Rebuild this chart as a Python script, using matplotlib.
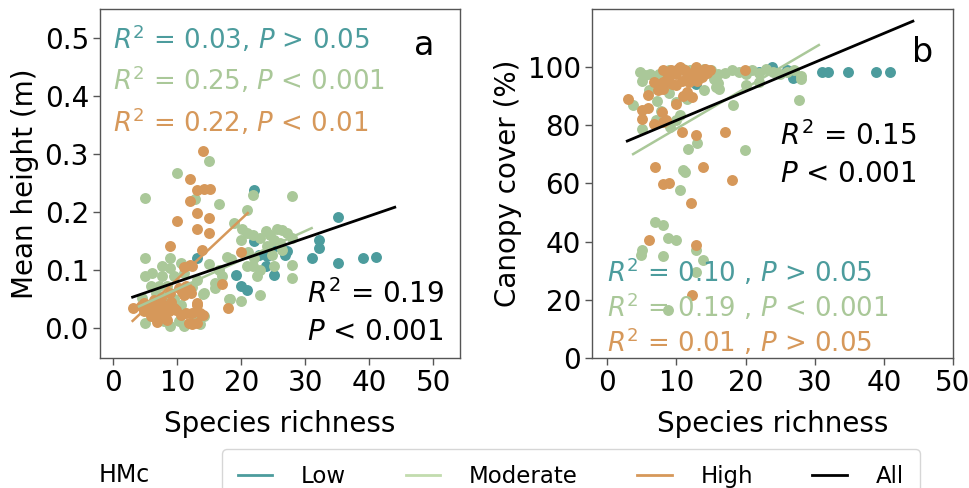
import matplotlib
matplotlib.use("Agg")
import matplotlib.pyplot as plt
from matplotlib.lines import Line2D

plt.rcParams['font.family'] = ['DejaVu Sans']
plt.rcParams['mathtext.fontset'] = 'dejavusans'

# ---------------- colours ----------------
C_LOW = '#4c9c9d'
C_MOD = '#aac899'
C_HIGH = '#d6985a'
C_ALL = '#000000'

# ---------------- panel a: mean height ----------------
a_low_x = [13, 19.1, 19.9, 20.9, 22, 22, 22.7, 24, 23.8, 25.1, 25.6, 26.9, 27.1, 31, 32.1, 32.1, 35.1, 35.1, 39.1, 41.1]
a_low_y = [0.120, 0.092, 0.072, 0.066, 0.237, 0.149, 0.126, 0.124, 0.106, 0.092, 0.141, 0.126, 0.132, 0.121, 0.152, 0.138, 0.191, 0.112, 0.120, 0.122]

a_mod_x = [4.9, 10, 14.9, 12.8, 16.5, 20.9, 21.9, 28, 18.8,
           20.1, 19.9, 20.9, 21.9, 23, 23.8, 24.5, 25.6, 26.4, 27.1, 27.9, 25.1, 26.1, 24, 26.4,
           17.8, 18.4, 20.9, 21.9, 22.5, 23, 25.1, 28, 28, 24.8, 18, 19.9, 15.9, 15.9, 14, 22, 23, 21,
           4.9, 4.9, 6.1, 7.6, 8.9, 8.9, 10.5, 7.6, 9.5, 11, 5.8, 7.1, 8.4, 6.6, 8.4, 4.5, 5, 6.3, 7.9,
           8.9, 10.2, 11, 12.6, 13.6, 14.1, 13.1, 12.3, 14.1, 6, 7, 9.5, 10.5, 16.5, 17, 15, 18.3]
a_mod_y = [0.224, 0.267, 0.287, 0.222, 0.213, 0.204, 0.230, 0.228, 0.181,
           0.170, 0.152, 0.164, 0.161, 0.155, 0.167, 0.160, 0.171, 0.168, 0.164, 0.155, 0.152, 0.147, 0.141, 0.135,
           0.123, 0.118, 0.106, 0.106, 0.089, 0.057, 0.106, 0.109, 0.086, 0.126, 0.049, 0.046, 0.077, 0.068, 0.059, 0.120, 0.100, 0.130,
           0.120, 0.089, 0.094, 0.106, 0.120, 0.103, 0.112, 0.089, 0.089, 0.094, 0.072, 0.072, 0.072, 0.060, 0.055, 0.052, 0.009, 0.020, 0.012,
           0.003, 0.012, 0.003, 0.014, 0.006, 0.020, 0.083, 0.070, 0.060, 0.040, 0.030, 0.050, 0.040, 0.100, 0.090, 0.110, 0.049]

a_high_x = [14.0, 12, 13.1, 14.1, 15.1, 12, 10, 13, 14.9, 13, 14.9, 8.9, 13.9, 12, 11, 12.3, 17, 19.9, 17.9,
            3, 4.8, 5.8, 6.6, 7.4, 8.2, 8.7, 9.5, 5.8, 6.6, 7.4, 4.8, 8.4, 10.5, 11.3, 12.3, 13.6, 13.1, 11.8,
            12.3, 13.1, 11, 10.2, 11.3, 11.9, 8.9, 7.4, 6.3, 4.3, 10.8, 12.2, 13, 14, 6, 7, 8, 9, 5.2, 6.8, 9.8]
a_high_y = [0.305, 0.257, 0.238, 0.240, 0.240, 0.218, 0.184, 0.198, 0.190, 0.170, 0.163, 0.142, 0.135, 0.109, 0.105, 0.106, 0.076, 0.131, 0.035,
            0.034, 0.043, 0.037, 0.031, 0.040, 0.037, 0.029, 0.034, 0.020, 0.023, 0.025, 0.029, 0.014, 0.023, 0.025, 0.025, 0.025, 0.043, 0.009,
            0.006, 0.009, 0.057, 0.069, 0.072, 0.066, 0.060, 0.052, 0.048, 0.037, 0.061, 0.060, 0.040, 0.023, 0.030, 0.045, 0.020, 0.045, 0.035, 0.010, 0.030]

# fitted lines (endpoints)
a_all_fit_x = [3, 44]
a_all_fit_y = [0.053, 0.208]
a_mod_fit_x = [4, 31]
a_mod_fit_y = [0.037, 0.172]
a_high_fit_x = [3, 21]
a_high_fit_y = [0.012, 0.198]

# ---------------- panel b: canopy cover ----------------
b_low_x = [31, 31.9, 34.8, 38.9, 40.9, 23.8, 26.9, 26, 12.9, 22]
b_low_y = [98.3, 98.3, 98.3, 98.3, 98.3, 100, 96.2, 99, 94.3, 98.5]

b_mod_x = [4.8, 5.5, 6.2, 5, 7, 8, 7.5, 9, 10, 11, 12, 13, 14, 15, 16, 17, 18, 19, 20, 21, 22, 23, 24, 25, 26,
           27, 28, 28, 22, 20, 16.1, 16, 18.2, 27.8, 3.8, 5, 7.2, 7.8, 9.1, 10.5, 11.7, 13, 11.2, 10.5, 19.9,
           6.9, 8.1, 8.8, 10, 5, 4.9, 8.1, 12.9, 13.9, 12.9, 8.8, 10, 11.5, 9, 14, 13, 15.5, 6, 7, 10, 11, 15.8]
b_mod_y = [98.3, 97.2, 97.8, 95.4, 96, 94, 97.5, 99, 98.8, 99.5, 99, 98, 99.5, 99, 97.5, 98, 99, 98.5, 97.5, 99, 98, 99.5, 98.5, 97.5, 98.5,
           99, 97, 96, 95, 94, 92.6, 94.5, 86.9, 88.6, 86.9, 78.9, 88.5, 85, 79.5, 83.5, 72, 74, 64, 57.7, 71.4,
           46.9, 45.7, 41.2, 40.6, 37.2, 35.5, 34.9, 37.2, 33.7, 29.7, 16.6, 88, 89, 91, 92, 95.5, 96, 92, 82, 82, 64.6, 93.2]

b_high_x = [3, 5.9, 5.9, 5, 5, 6.7, 7.9, 8, 8.5, 10, 10.8, 12.9, 17, 6.9, 8.9, 8, 13.9, 18, 12.1, 6, 12.9, 12.2, 19.9,
            8, 9.2, 10.2, 11.2, 12.2, 13.2, 14.1, 14.9, 8.7, 9.4, 10.8, 11.8, 13, 13.7, 8, 9.9, 8, 6.7, 7.4, 11, 12.2,
            11.5, 14.5, 12.5, 10, 11.5, 13.8, 9, 12.8, 10.5]
b_high_y = [89.2, 90.3, 85.8, 85.2, 82.3, 80.6, 84.6, 81, 82, 87.5, 77.7, 76.6, 77.7, 65.8, 60.3, 59.8, 65.8, 61.2, 53.4, 40.4, 38.9, 21.5, 98.9,
            99, 99, 99.5, 99, 98, 98.5, 99.5, 99, 96, 94.3, 95.4, 94.9, 95.4, 96.6, 94.9, 93.7, 92.5, 95, 92.3, 90, 89.7,
            91.5, 98, 97, 97.5, 97.8, 97.2, 97, 100, 100]

b_all_fit_x = [2.9, 44.2]
b_all_fit_y = [74.6, 115.8]
b_mod_fit_x = [3.75, 30.6]
b_mod_fit_y = [70.1, 107.6]

# ---------------- text ----------------
a_stats = [r'$R^2$ = 0.03, $P$ > 0.05', r'$R^2$ = 0.25, $P$ < 0.001', r'$R^2$ = 0.22, $P$ < 0.01']
a_all_stat = '$R^2$ = 0.19\n$P$ < 0.001'
b_stats = [r'$R^2$ = 0.10 , $P$ > 0.05', r'$R^2$ = 0.19 , $P$ < 0.001', r'$R^2$ = 0.01 , $P$ > 0.05']
b_all_stat = '$R^2$ = 0.15\n$P$ < 0.001'
legend_labels = ['Low', 'Moderate', 'High', 'All']
x_ticks = [0, 10, 20, 30, 40, 50]
a_yticks = [0.0, 0.1, 0.2, 0.3, 0.4, 0.5]
b_yticks = [0, 20, 40, 60, 80, 100]

fig = plt.figure(figsize=(9.7, 4.88), dpi=100)
ax_a = fig.add_axes([0.1031, 0.2664, 0.3711, 0.7152])
ax_b = fig.add_axes([0.6103, 0.2664, 0.3722, 0.7152])

MS = 62
SPINE = '#555555'
TICK_FS = 20
STAT_FS = 18.7


def style(ax):
    for s in ax.spines.values():
        s.set_color(SPINE)
        s.set_linewidth(1.0)
    ax.tick_params(axis='both', labelsize=TICK_FS, color=SPINE, length=5, width=1, pad=3)
    ax.set_xticks(x_ticks)


# panel a
ax_a.scatter(a_low_x, a_low_y, s=MS, color=C_LOW, linewidths=0, zorder=2)
ax_a.scatter(a_mod_x, a_mod_y, s=MS, color=C_MOD, linewidths=0, zorder=2)
ax_a.scatter(a_high_x, a_high_y, s=MS, color=C_HIGH, linewidths=0, zorder=2)
ax_a.plot(a_high_fit_x, a_high_fit_y, color=C_HIGH, lw=1.8, zorder=3)
ax_a.plot(a_mod_fit_x, a_mod_fit_y, color=C_MOD, lw=1.8, zorder=3)
ax_a.plot(a_all_fit_x, a_all_fit_y, color=C_ALL, lw=2.0, zorder=4)
ax_a.set_xlim(-2.1, 54.2)
ax_a.set_ylim(-0.052, 0.55)
ax_a.set_yticks(a_yticks)
style(ax_a)
ax_a.set_xlabel('Species richness', fontsize=TICK_FS, labelpad=9)
ax_a.set_ylabel('Mean height (m)', fontsize=TICK_FS)
for t, c, yy in zip(a_stats, [C_LOW, C_MOD, C_HIGH], [0.885, 0.768, 0.648]):
    ax_a.text(0.036, yy, t, color=c, fontsize=STAT_FS, transform=ax_a.transAxes, va='baseline', ha='left')
ax_a.text(0.575, 0.052, a_all_stat, color='black', fontsize=20, transform=ax_a.transAxes,
          va='baseline', ha='left', linespacing=1.4)
ax_a.text(0.90, 0.868, 'a', fontsize=24, transform=ax_a.transAxes, va='baseline', ha='center')

# panel b
ax_b.scatter(b_low_x, b_low_y, s=MS, color=C_LOW, linewidths=0, zorder=2)
ax_b.scatter(b_mod_x, b_mod_y, s=MS, color=C_MOD, linewidths=0, zorder=2)
ax_b.scatter(b_high_x, b_high_y, s=MS, color=C_HIGH, linewidths=0, zorder=2)
ax_b.plot(b_mod_fit_x, b_mod_fit_y, color=C_MOD, lw=1.8, zorder=3)
ax_b.plot(b_all_fit_x, b_all_fit_y, color=C_ALL, lw=2.0, zorder=4)
ax_b.set_xlim(-2.2, 50.0)
ax_b.set_ylim(0, 120)
ax_b.set_yticks(b_yticks)
style(ax_b)
ax_b.set_xlabel('Species richness', fontsize=TICK_FS, labelpad=9)
ax_b.set_ylabel('Canopy cover (%)', fontsize=TICK_FS)
for t, c, yy in zip(b_stats, [C_LOW, C_MOD, C_HIGH], [0.218, 0.117, 0.017]):
    ax_b.text(0.042, yy, t, color=c, fontsize=STAT_FS, transform=ax_b.transAxes, va='baseline', ha='left', zorder=5)
ax_b.text(0.521, 0.504, b_all_stat, color='black', fontsize=20, transform=ax_b.transAxes,
          va='baseline', ha='left', linespacing=1.4)
ax_b.text(0.886, 0.848, 'b', fontsize=24, transform=ax_b.transAxes, va='baseline', ha='left')

# legend
handles = [Line2D([0], [0], color=c, lw=2) for c in [C_LOW, '#c2dcae', C_HIGH, C_ALL]]
fig.legend(handles, legend_labels, loc='upper left', bbox_to_anchor=(222 / 970, 1 - 449 / 488),
           ncol=4, fontsize=16.5, frameon=True, handlelength=1.5, handletextpad=1.25,
           columnspacing=2.6, borderaxespad=0, borderpad=0.7)
fig.text(99 / 970, 1 - 475 / 488, 'HMc', fontsize=17, va='center', ha='left')

fig.savefig('out.png', dpi=100)
